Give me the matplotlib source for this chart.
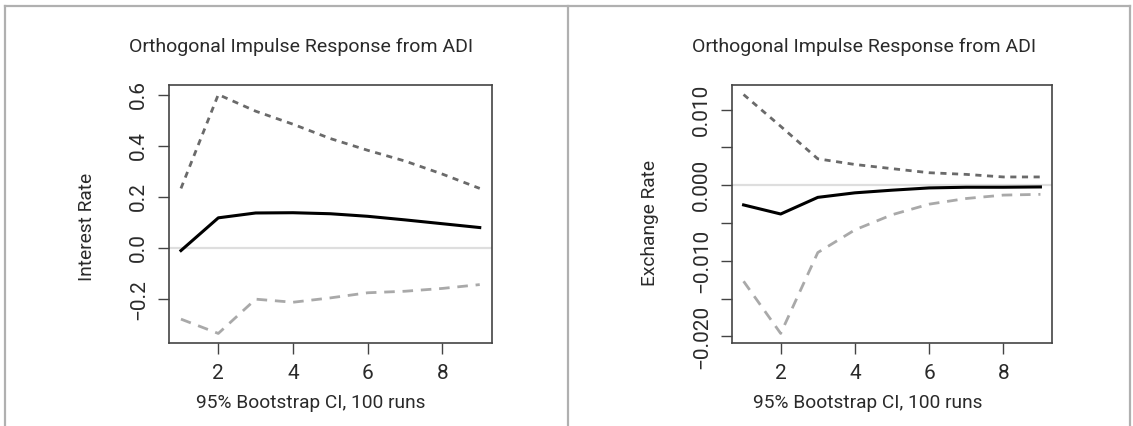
import matplotlib
matplotlib.use("Agg")
import matplotlib.pyplot as plt
from matplotlib.lines import Line2D

plt.rcParams['font.family'] = ['Roboto', 'DejaVu Sans']

steps = [1, 2, 3, 4, 5, 6, 7, 8, 9]

# interest rate response to ADI shock
ir_mid = [-0.010, 0.118, 0.137, 0.138, 0.134, 0.124, 0.110, 0.095, 0.080]
ir_upper = [0.233, 0.600, 0.535, 0.484, 0.428, 0.382, 0.340, 0.289, 0.233]
ir_lower = [-0.278, -0.334, -0.200, -0.212, -0.195, -0.175, -0.169, -0.158, -0.143]

# exchange rate response to ADI shock
ex_mid = [-0.0026, -0.0038, -0.0016, -0.0010, -0.00065, -0.00035, -0.00026, -0.00026, -0.00022]
ex_upper = [0.0120, 0.0078, 0.0035, 0.00275, 0.0022, 0.00166, 0.00144, 0.0011, 0.0011]
ex_lower = [-0.0127, -0.0196, -0.0089, -0.0059, -0.0039, -0.0025, -0.00175, -0.0013, -0.0012]

x_ticks = [2, 4, 6, 8]
ir_ticks = [-0.2, 0.0, 0.2, 0.4, 0.6]
ir_ticklabels = ['\u22120.2', '0.0', '0.2', '0.4', '0.6']
ex_ticks = [-0.020, -0.015, -0.010, -0.005, 0.000, 0.005, 0.010]
ex_ticklabels = ['\u22120.020', '', '\u22120.010', '', '0.000', '', '0.010']

title = 'Orthogonal Impulse Response from ADI'
xlab = '95% Bootstrap CI, 100 runs'

txt = '#2a2a2a'
fs_title = 14
fs_lab = 13.8
fs_tick = 15

fig = plt.figure(figsize=(11.33, 4.26), dpi=100)
fig.patch.set_facecolor('white')

ax1 = fig.add_axes([169 / 1133, 1 - 343 / 426, (491.7 - 169) / 1133, (343 - 85) / 426])
ax2 = fig.add_axes([731.7 / 1133, 1 - 343 / 426, (1052.3 - 731.7) / 1133, (343 - 85) / 426])


def draw(ax, mid, up, lo, yticks, ylabels):
    ax.axhline(0, color='#dedede', lw=1.6, zorder=1)
    ax.plot(steps, up, color='#6a6a6a', lw=2.0, dashes=(2.2, 2.0), zorder=2)
    ax.plot(steps, lo, color='#a9a9a9', lw=2.0, dashes=(3.8, 2.8), zorder=2)
    ax.plot(steps, mid, color='black', lw=2.2, zorder=3, solid_joinstyle='round')
    ax.margins(x=0.04, y=0.04)
    ax.set_xticks(x_ticks)
    ax.set_yticks(yticks)
    ax.set_yticklabels(ylabels)
    ax.tick_params(axis='both', length=8, width=1.0, color='#444444',
                   labelsize=fs_tick, labelcolor=txt, pad=7)
    ax.tick_params(axis='y', labelrotation=90)
    for lab in ax.get_yticklabels():
        lab.set_va('center')
    for s in ax.spines.values():
        s.set_color('#444444')
        s.set_linewidth(1.2)


draw(ax1, ir_mid, ir_upper, ir_lower, ir_ticks, ir_ticklabels)
draw(ax2, ex_mid, ex_upper, ex_lower, ex_ticks, ex_ticklabels)

# titles and axis labels (placed like the original, a bit left of the axes centre)
fig.text(301 / 1133, 1 - 51.7 / 426, title, ha='center', va='baseline', fontsize=fs_title, color=txt)
fig.text(864 / 1133, 1 - 51.7 / 426, title, ha='center', va='baseline', fontsize=fs_title, color=txt)
fig.text(311 / 1133, 1 - 407.5 / 426, xlab, ha='center', va='baseline', fontsize=fs_lab, color=txt)
fig.text(868 / 1133, 1 - 407.5 / 426, xlab, ha='center', va='baseline', fontsize=fs_lab, color=txt)
fig.text(86.7 / 1133, 1 - 227 / 426, 'Interest Rate', rotation=90, ha='center', va='center',
         fontsize=fs_lab, color=txt)
fig.text(650 / 1133, 1 - 223 / 426, 'Exchange Rate', rotation=90, ha='center', va='center',
         fontsize=fs_lab, color=txt)

# outer frame of the two panels
frame = dict(color='#b0b0b0', lw=1.6, transform=fig.transFigure)
fig.add_artist(Line2D([5 / 1133, 1130 / 1133], [1 - 6 / 426, 1 - 6 / 426], **frame))
fig.add_artist(Line2D([5 / 1133, 5 / 1133], [0, 1 - 6 / 426], **frame))
fig.add_artist(Line2D([568 / 1133, 568 / 1133], [0, 1 - 6 / 426], **frame))
fig.add_artist(Line2D([1130 / 1133, 1130 / 1133], [0, 1 - 6 / 426], **frame))

fig.savefig('out.png', dpi=100, facecolor='white')
